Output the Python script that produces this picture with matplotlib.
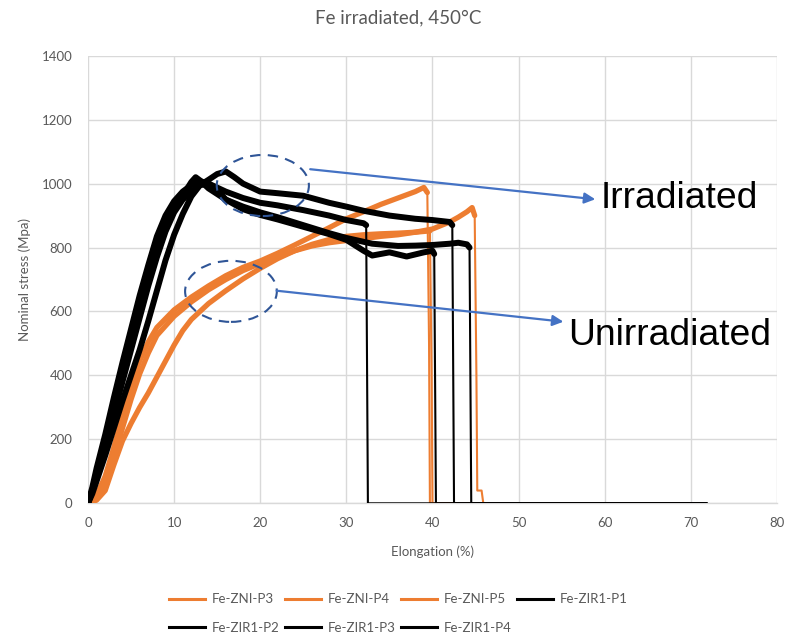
import numpy as np
import matplotlib
matplotlib.use("Agg")
import matplotlib.pyplot as plt
from matplotlib.patches import Ellipse

# ---- tensile curves: elongation (%) and nominal stress (MPa) ----
zni_p3_x = [0, 1, 2, 3, 4, 5, 6, 7, 8, 10, 12, 14, 16, 18, 20, 22, 24, 26, 28, 30, 32, 34, 36, 38, 39, 39.4, 39.6, 39.7, 70]
zni_p3_y = [0, 25, 85, 175, 275, 370, 445, 505, 550, 605, 645, 680, 712, 738, 758, 782, 808, 835, 862, 890, 912, 935, 955, 975, 988, 972, 500, 0, 0]

zni_p4_x = [0, 1, 2, 3, 4, 5, 6, 7, 8, 10, 12, 14, 16, 18, 20, 22, 24, 26, 28, 30, 32, 34, 36, 38, 40, 42, 43, 44, 44.6, 44.9, 45.1, 45.2, 45.7, 45.9, 70]
zni_p4_y = [0, 18, 65, 145, 235, 325, 405, 470, 525, 585, 630, 668, 700, 728, 750, 770, 790, 805, 815, 822, 828, 835, 840, 848, 858, 880, 895, 912, 925, 900, 400, 40, 40, 0, 0]

zni_p5_x = [0, 1, 2, 3, 4, 5, 6, 7, 8, 9, 10, 11, 12, 14, 16, 18, 20, 22, 24, 26, 28, 30, 32, 34, 36, 38, 39.7, 39.9, 40.0, 70]
zni_p5_y = [0, 10, 40, 120, 195, 250, 300, 345, 395, 445, 495, 540, 575, 625, 665, 702, 735, 765, 790, 810, 825, 835, 840, 843, 845, 848, 852, 400, 0, 0]

zir1_p1_x = [0, 0.5, 1, 2, 3, 4, 5, 6, 7, 8, 9, 10, 11, 12, 13, 14, 15, 16, 17, 18, 20, 22, 25, 28, 30, 32, 35, 38, 40, 42, 42.3, 42.5, 71.8]
zir1_p1_y = [0, 40, 90, 180, 280, 380, 480, 580, 680, 770, 850, 910, 950, 975, 995, 1012, 1030, 1038, 1020, 1000, 975, 970, 962, 940, 928, 915, 900, 890, 886, 880, 870, 0, 0]

zir1_p2_x = [0, 0.5, 1, 2, 3, 4, 5, 6, 7, 7.5, 8, 9, 10, 11, 12, 13, 14, 16, 18, 20, 22, 25, 28, 30, 32, 32.3, 32.5, 71.8]
zir1_p2_y = [0, 50, 110, 215, 330, 440, 545, 650, 745, 790, 835, 900, 945, 975, 995, 1008, 1000, 975, 955, 940, 932, 917, 900, 886, 876, 870, 0, 0]

zir1_p3_x = [0, 0.5, 1, 2, 3, 4, 5, 6, 7, 8, 9, 10, 11, 12, 13, 14, 15, 16, 18, 20, 22, 25, 28, 30, 32, 33, 35, 37, 39, 40, 40.2, 40.4, 71.8]
zir1_p3_y = [0, 30, 70, 150, 235, 320, 400, 480, 570, 665, 760, 840, 905, 960, 995, 1000, 980, 950, 920, 902, 888, 865, 842, 824, 790, 775, 785, 772, 785, 790, 780, 0, 0]

zir1_p4_x = [0, 0.5, 1, 2, 3, 4, 5, 6, 7, 8, 9, 10, 11, 12, 12.5, 13, 14, 16, 18, 20, 22, 25, 28, 30, 33, 36, 38, 40, 42, 43, 44, 44.3, 44.5, 71.8]
zir1_p4_y = [0, 40, 95, 190, 295, 400, 500, 600, 700, 790, 862, 920, 962, 1005, 1020, 1010, 985, 950, 928, 910, 895, 870, 845, 830, 812, 805, 806, 808, 812, 815, 810, 800, 0, 0]

series_names = ["Fe-ZNI-P3", "Fe-ZNI-P4", "Fe-ZNI-P5",
                "Fe-ZIR1-P1", "Fe-ZIR1-P2", "Fe-ZIR1-P3", "Fe-ZIR1-P4"]
series_x = [zni_p3_x, zni_p4_x, zni_p5_x, zir1_p1_x, zir1_p2_x, zir1_p3_x, zir1_p4_x]
series_y = [zni_p3_y, zni_p4_y, zni_p5_y, zir1_p1_y, zir1_p2_y, zir1_p3_y, zir1_p4_y]

x_ticks = [0, 10, 20, 30, 40, 50, 60, 70, 80]
y_ticks = [0, 200, 400, 600, 800, 1000, 1200, 1400]

ORANGE = "#ED7D31"
BLACK = "#000000"
series_colors = [ORANGE] * 3 + [BLACK] * 4
series_widths = [3.8] * 3 + [4.3] * 4
GRID = "#D9D9D9"
TXT = "#595959"
ARROW = "#4472C4"
ELL = "#2F5597"

plt.rcParams["font.family"] = ["Lato", "DejaVu Sans"]

fig = plt.figure(figsize=(7.97, 6.36), dpi=100)
ax = fig.add_axes([0.1104, 0.2086, 0.8645, 0.7038])

handles = []
for name, xs, ys, col, lw in zip(series_names, series_x, series_y,
                                 series_colors, series_widths):
    xs = np.asarray(xs, float)
    ys = np.asarray(ys, float)
    # the serrated flow part is drawn heavy, the fracture drop and tail thin
    peak = int(np.argmax(ys))
    cut = peak
    for i in range(peak, len(ys) - 1):
        if ys[i + 1] < 0.6 * ys[i]:
            cut = i
            break
    ax.plot(xs, ys, color=col, lw=1.5, solid_joinstyle="round", zorder=3)
    ax.plot(xs[:cut + 1], ys[:cut + 1], color=col, lw=lw,
            solid_joinstyle="round", solid_capstyle="round", zorder=3)
    h, = ax.plot([], [], color=col, lw=2.2, label=name)
    handles.append(h)

ax.set_xlim(0, 80)
ax.set_ylim(0, 1400)
ax.set_xticks(x_ticks)
ax.set_yticks(y_ticks)
ax.grid(True, color=GRID, lw=1.0, zorder=0)
ax.set_axisbelow(True)
for s in ax.spines.values():
    s.set_visible(False)
ax.spines["bottom"].set_visible(True)
ax.spines["bottom"].set_color(GRID)
ax.spines["bottom"].set_linewidth(1.0)
ax.tick_params(axis="both", length=0, labelsize=9.5, labelcolor=TXT, pad=10)
ax.tick_params(axis="y", pad=11)

ax.set_xlabel("Elongation (%)", fontsize=9.5, color=TXT, labelpad=12)
ax.set_ylabel("Nominal stress (Mpa)", fontsize=9.5, color=TXT, labelpad=8)
fig.text(0.5, 0.972, "Fe irradiated, 450°C", ha="center", va="center",
         fontsize=13.5, color=TXT)

# dashed ellipses marking the two groups
ax.add_patch(Ellipse((20.3, 994), 10.7, 191, fill=False, ec=ELL, lw=1.5,
                     ls=(0, (5, 3.5)), zorder=5))
ax.add_patch(Ellipse((16.6, 663), 10.65, 191, fill=False, ec=ELL, lw=1.5,
                     ls=(0, (5, 3.5)), zorder=5))

arrow_kw = dict(arrowstyle="-|>", color=ARROW, lw=1.6, mutation_scale=16,
                shrinkA=0, shrinkB=0)
ax.annotate("", xy=(58.9, 951), xytext=(25.8, 1045), arrowprops=arrow_kw,
            zorder=6)
ax.annotate("", xy=(55.2, 568), xytext=(21.9, 665), arrowprops=arrow_kw,
            zorder=6)
ax.text(59.5, 952, "Irradiated", fontsize=26.8, family="Liberation Sans",
        color="black", ha="left", va="center", zorder=7)
ax.text(55.8, 526, "Unirradiated", fontsize=26.8, family="Liberation Sans",
        color="black", ha="left", va="center", zorder=7, clip_on=False)

# legend filled row by row (matplotlib fills column by column)
order = [0, 4, 1, 5, 2, 6, 3]
leg = fig.legend([handles[i] for i in order], [series_names[i] for i in order],
                 loc="center", bbox_to_anchor=(0.5, 0.035), ncol=4,
                 frameon=False, fontsize=9.5, handlelength=2.7,
                 columnspacing=0.45, handletextpad=0.5, labelspacing=1.25)
for t in leg.get_texts():
    t.set_color(TXT)

fig.savefig("out.png", dpi=100)
